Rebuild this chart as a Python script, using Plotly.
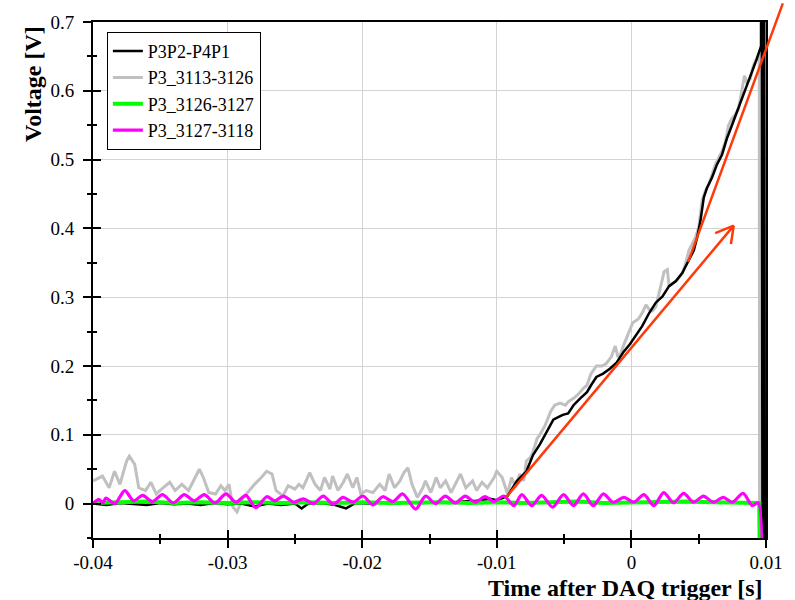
import plotly.graph_objects as go

# ---------------- data ----------------
black_t = [-0.0400, -0.0390, -0.0380, -0.0370, -0.0360, -0.0350, -0.0340, -0.0330, -0.0320, -0.0310,
           -0.0300, -0.0290, -0.0280, -0.0270, -0.0260, -0.0250, -0.0245, -0.0240, -0.0230, -0.0220,
           -0.0212, -0.0205, -0.0195, -0.0185, -0.0175, -0.0165, -0.0155, -0.0145, -0.0135, -0.0125,
           -0.0115, -0.0105, -0.0100, -0.0092, -0.0085, -0.0078, -0.0073, -0.0068, -0.0063, -0.0058,
           -0.0054, -0.0051, -0.0047, -0.0043, -0.0038, -0.0033, -0.0030, -0.0026, -0.0021, -0.0016,
           -0.0011, -0.0006, -0.0001, 0.0003, 0.0008, 0.00132, 0.00181, 0.00231, 0.00280, 0.00329,
           0.00378, 0.00427, 0.00464, 0.00489, 0.00513, 0.00538, 0.00562, 0.00599, 0.00636, 0.00673,
           0.00710, 0.00747, 0.00784, 0.00820, 0.00857, 0.00894, 0.00931, 0.00963,
           0.00966, 0.00975, 0.00984, 0.00993]
black_v = [0.000, -0.002, 0.001, 0.000, -0.002, 0.001, -0.001, 0.000, -0.002, 0.001,
           -0.001, 0.000, -0.004, 0.000, -0.002, 0.000, -0.007, 0.000, 0.001, -0.002,
           -0.007, 0.001, 0.000, 0.002, 0.000, 0.002, 0.001, 0.002, 0.001, 0.003,
           0.004, 0.007, 0.005, 0.011, 0.033, 0.047, 0.071, 0.086, 0.105, 0.122,
           0.126, 0.129, 0.131, 0.143, 0.153, 0.162, 0.172, 0.184, 0.189, 0.196,
           0.205, 0.220, 0.232, 0.244, 0.258, 0.277, 0.292, 0.301, 0.316, 0.323,
           0.335, 0.354, 0.368, 0.387, 0.411, 0.445, 0.459, 0.474, 0.493, 0.507,
           0.531, 0.550, 0.569, 0.589, 0.608, 0.627, 0.646, 0.665,
           1.200, -0.300, 1.200, -0.300]

gray_t = [-0.0400, -0.0393, -0.0388, -0.0384, -0.0380, -0.0375, -0.0373, -0.0369, -0.0366, -0.0361,
          -0.0357, -0.0353, -0.0348, -0.0343, -0.0339, -0.0334, -0.0329, -0.0325, -0.0321, -0.0318,
          -0.0314, -0.0309, -0.0305, -0.0302, -0.0299, -0.0296, -0.0293, -0.0289, -0.0284, -0.0280,
          -0.0275, -0.0271, -0.0267, -0.0264, -0.0259, -0.0255, -0.0250, -0.0247, -0.0244, -0.0239,
          -0.0235, -0.0231, -0.0228, -0.0224, -0.0222, -0.0218, -0.0214, -0.0211, -0.0207, -0.0204,
          -0.0201, -0.0197, -0.0192, -0.0187, -0.0183, -0.0180, -0.0176, -0.0172, -0.0169, -0.0166,
          -0.0163, -0.0159, -0.0155, -0.0153, -0.0149, -0.0145, -0.0142, -0.0138, -0.0134, -0.0131,
          -0.0127, -0.0123, -0.0118, -0.0115, -0.0111, -0.0107, -0.0102, -0.0100, -0.0096, -0.0092,
          -0.0089, -0.0086, -0.0083, -0.0080, -0.0078, -0.0075, -0.0073, -0.0070, -0.0068, -0.0064,
          -0.0060, -0.0057, -0.0053, -0.0049, -0.0047, -0.0043, -0.0040, -0.0036, -0.0033, -0.0030,
          -0.0026, -0.0022, -0.0019, -0.0015, -0.0012, -0.0010, -0.0008, -0.0005, -0.0001, 0.0001,
          0.0005, 0.0008, 0.00108, 0.00132, 0.00157, 0.00181, 0.00218, 0.00243, 0.00267, 0.00280,
          0.00304, 0.00341, 0.00378, 0.00403, 0.00427, 0.00452, 0.00476, 0.00501, 0.00525, 0.00550,
          0.00575, 0.00599, 0.00624, 0.00648, 0.00673, 0.00698, 0.00722, 0.00747, 0.00771, 0.00796,
          0.00820, 0.00840, 0.00857, 0.00882, 0.00907, 0.00931, 0.00950, 0.00953]
gray_v = [0.033, 0.040, 0.023, 0.047, 0.028, 0.062, 0.069, 0.057, 0.023, 0.019,
          0.031, 0.014, 0.023, 0.031, 0.019, 0.028, 0.019, 0.035, 0.050, 0.038,
          0.016, 0.014, 0.026, 0.019, 0.028, -0.005, -0.012, 0.007, 0.019, 0.028,
          0.038, 0.047, 0.043, 0.019, 0.011, 0.026, 0.021, 0.028, 0.023, 0.045,
          0.028, 0.019, 0.038, 0.021, 0.040, 0.019, 0.031, 0.043, 0.023, 0.038,
          0.014, 0.019, 0.016, 0.028, 0.019, 0.043, 0.023, 0.033, 0.045, 0.052,
          0.028, 0.009, 0.023, 0.033, 0.016, 0.038, 0.023, 0.033, 0.016, 0.028,
          0.043, 0.023, 0.033, 0.019, 0.031, 0.023, 0.038, 0.047, 0.038, 0.014,
          0.038, 0.024, 0.043, 0.033, 0.062, 0.067, 0.076, 0.095, 0.100, 0.114,
          0.134, 0.143, 0.146, 0.143, 0.148, 0.153, 0.158, 0.167, 0.172, 0.189,
          0.200, 0.200, 0.203, 0.213, 0.229, 0.213, 0.218, 0.234, 0.253, 0.263,
          0.268, 0.277, 0.289, 0.282, 0.280, 0.286, 0.316, 0.337, 0.340, 0.316,
          0.320, 0.325, 0.335, 0.349, 0.368, 0.378, 0.387, 0.402, 0.440, 0.455,
          0.464, 0.478, 0.493, 0.502, 0.512, 0.526, 0.550, 0.560, 0.565, 0.574,
          0.598, 0.622, 0.612, 0.617, 0.637, 0.648, 0.655, -0.300]

green_t = [-0.0400, -0.0380, -0.0360, -0.0340, -0.0320, -0.0300, -0.0280, -0.0260, -0.0240, -0.0220,
           -0.0200, -0.0180, -0.0160, -0.0140, -0.0120, -0.0100, -0.0080, -0.0060, -0.0040, -0.0020,
           0.0000, 0.0020, 0.0040, 0.0060, 0.0080, 0.0095, 0.00963]
green_v = [0.001, 0.002, 0.003, 0.001, 0.002, 0.001, 0.002, 0.001, 0.002, 0.001,
           0.002, 0.001, 0.002, 0.002, 0.001, 0.002, 0.001, 0.002, 0.003, 0.001,
           0.002, 0.002, 0.003, 0.002, 0.002, 0.001, -0.300]

magenta_t = [-0.04000, -0.03956, -0.03926, -0.03904, -0.03838, -0.03764, -0.03698, -0.03631, -0.03558, -0.03484,
             -0.03403, -0.03322, -0.03248, -0.03174, -0.03093, -0.03012, -0.02938, -0.02864, -0.02791, -0.02709,
             -0.02650, -0.02584, -0.02510, -0.02437, -0.02363, -0.02289, -0.02215, -0.02142, -0.02068, -0.01994,
             -0.01920, -0.01847, -0.01773, -0.01699, -0.01603, -0.01529, -0.01456, -0.01382, -0.01308, -0.01235,
             -0.01161, -0.01087, -0.01021, -0.00947, -0.00873, -0.00814, -0.00740, -0.00667, -0.00586, -0.00504,
             -0.00431, -0.00357, -0.00283, -0.00209, -0.00136, -0.00055, 0.00019, 0.00093, 0.00167, 0.00240,
             0.00314, 0.00388, 0.00462, 0.00535, 0.00609, 0.00683, 0.00749, 0.00830, 0.00897, 0.00941, 0.00948]
magenta_v = [0.000, 0.006, 0.001, 0.008, 0.000, 0.019, 0.004, 0.012, 0.003, 0.013,
             0.001, 0.013, 0.004, 0.013, 0.001, 0.014, 0.002, 0.012, -0.006, 0.010,
             0.004, 0.011, 0.002, 0.007, 0.000, 0.011, -0.001, 0.009, 0.002, 0.011,
             -0.002, 0.010, 0.003, 0.014, -0.008, 0.011, 0.000, 0.011, 0.001, 0.011,
             0.002, 0.010, 0.003, 0.011, -0.003, 0.013, -0.003, 0.012, -0.005, 0.013,
             -0.003, 0.014, -0.003, 0.014, 0.002, 0.009, 0.002, 0.013, -0.003, 0.016,
             0.001, 0.015, 0.002, 0.011, 0.002, 0.009, 0.002, 0.015, -0.003, 0.001, -0.300]

# fitted-slope arrows: (tail_t, tail_v, head_t, head_v)
arrow_low = [-0.0094, 0.007, 0.0076, 0.404]
arrow_high = [0.00417, 0.349, 0.01125, 0.727]

x_tick_vals = [-0.04, -0.03, -0.02, -0.01, 0.0, 0.01]
x_tick_text = ["-0.04", "-0.03", "-0.02", "-0.01", "0", "0.01"]
y_tick_vals = [0.0, 0.1, 0.2, 0.3, 0.4, 0.5, 0.6, 0.7]
y_tick_text = ["0", "0.1", "0.2", "0.3", "0.4", "0.5", "0.6", "0.7"]
x_range = [-0.04, 0.01]
y_range = [-0.05, 0.7]

FONT = "Liberation Serif, Times New Roman, Times, serif"
ORANGE = "#FF3A0A"

fig = go.Figure()
fig.add_trace(go.Scatter(x=gray_t, y=gray_v, mode="lines", name="P3_3113-3126",
                         line=dict(color="#C0C0C0", width=3), legendrank=2))
fig.add_trace(go.Scatter(x=black_t, y=black_v, mode="lines", name="P3P2-P4P1",
                         line=dict(color="black", width=2.5), legendrank=1))
fig.add_trace(go.Scatter(x=green_t, y=green_v, mode="lines", name="P3_3126-3127",
                         line=dict(color="#00FF00", width=4), legendrank=3))
fig.add_trace(go.Scatter(x=magenta_t, y=magenta_v, mode="lines", name="P3_3127-3118",
                         line=dict(color="#FF00FF", width=3.2, shape="spline", smoothing=0.8),
                         legendrank=4))
# invisible helper trace so the overlay axes (inside tick marks) are drawn
fig.add_trace(go.Scatter(x=[x_range[0]], y=[y_range[0]], xaxis="x2", yaxis="y2", mode="markers",
                         marker=dict(opacity=0), showlegend=False, hoverinfo="skip"))

common = dict(tickfont=dict(family=FONT, size=19, color="black"), tickcolor="black",
              tickwidth=2, zeroline=False)
fig.update_layout(
    width=795, height=600,
    margin=dict(l=93, r=24, t=16, b=62),
    paper_bgcolor="white", plot_bgcolor="white",
    font=dict(family=FONT, color="black"),
    xaxis=dict(range=x_range, tickmode="array", tickvals=x_tick_vals, ticktext=x_tick_text,
               ticks="outside", ticklen=8, showline=True, linewidth=2, linecolor="black",
               mirror=True, showgrid=True, gridcolor="#D3D3D3", gridwidth=1,
               ticklabelstandoff=-2,
               minor=dict(dtick=0.005, tick0=0, ticks="outside", ticklen=4, tickwidth=2,
                          tickcolor="black", showgrid=False), **common),
    yaxis=dict(range=y_range, tickmode="array", tickvals=y_tick_vals, ticktext=y_tick_text,
               ticks="outside", ticklen=8, showline=True, linewidth=2, linecolor="black",
               mirror=True, showgrid=True, gridcolor="#D3D3D3", gridwidth=1,
               ticklabelstandoff=5,
               minor=dict(dtick=0.05, tick0=0, ticks="outside", ticklen=4, tickwidth=2,
                          tickcolor="black", showgrid=False), **common),
    xaxis2=dict(range=x_range, overlaying="x", anchor="y2", side="bottom", tickmode="array",
                tickvals=x_tick_vals, ticks="inside", ticklen=8, showticklabels=False,
                showgrid=False, showline=False,
                minor=dict(dtick=0.005, tick0=0, ticks="inside", ticklen=4, tickwidth=2,
                           tickcolor="black", showgrid=False), **common),
    yaxis2=dict(range=y_range, overlaying="y", anchor="x2", side="left", tickmode="array",
                tickvals=y_tick_vals, ticks="inside", ticklen=8, showticklabels=False,
                showgrid=False, showline=False,
                minor=dict(dtick=0.05, tick0=0, ticks="inside", ticklen=4, tickwidth=2,
                           tickcolor="black", showgrid=False), **common),
    legend=dict(x=0.0206, y=0.981, xanchor="left", yanchor="top", bgcolor="white",
                bordercolor="black", borderwidth=1, traceorder="normal", itemwidth=30,
                font=dict(family=FONT, size=18, color="black"), tracegroupgap=0),
    showlegend=True,
)

fig.add_annotation(text="<b>Voltage [V]</b>", textangle=-90, xref="paper", yref="paper",
                   x=-0.09, y=0.997, xanchor="center", yanchor="top", showarrow=False,
                   font=dict(family=FONT, size=24, color="black"))
fig.add_annotation(text="<b>Time after DAQ trigger [s]</b>", xref="paper", yref="paper",
                   x=0.998, y=-0.096, xanchor="right", yanchor="middle", showarrow=False,
                   font=dict(family=FONT, size=24, color="black"))

# lower fitted-slope arrow: shaft plus two open arrowhead arms (pixel offsets from the tip)
fig.add_annotation(x=arrow_low[2], y=arrow_low[3], ax=arrow_low[0], ay=arrow_low[1],
                   xref="x", yref="y", axref="x", ayref="y", text="", showarrow=True,
                   arrowhead=0, arrowwidth=2.5, arrowcolor=ORANGE, standoff=0)
for arm_dx, arm_dy in [(-20, 8), (-3, 20)]:
    fig.add_annotation(x=arrow_low[2], y=arrow_low[3], ax=arm_dx, ay=arm_dy,
                       xref="x", yref="y", axref="pixel", ayref="pixel", text="", showarrow=True,
                       arrowhead=0, arrowwidth=2.5, arrowcolor=ORANGE, standoff=0)
# upper fitted-slope line running off the frame
fig.add_annotation(x=arrow_high[2], y=arrow_high[3], ax=arrow_high[0], ay=arrow_high[1],
                   xref="x", yref="y", axref="x", ayref="y", text="", showarrow=True,
                   arrowhead=0, arrowwidth=2.5, arrowcolor=ORANGE, standoff=0)

fig.write_html("out.html")
